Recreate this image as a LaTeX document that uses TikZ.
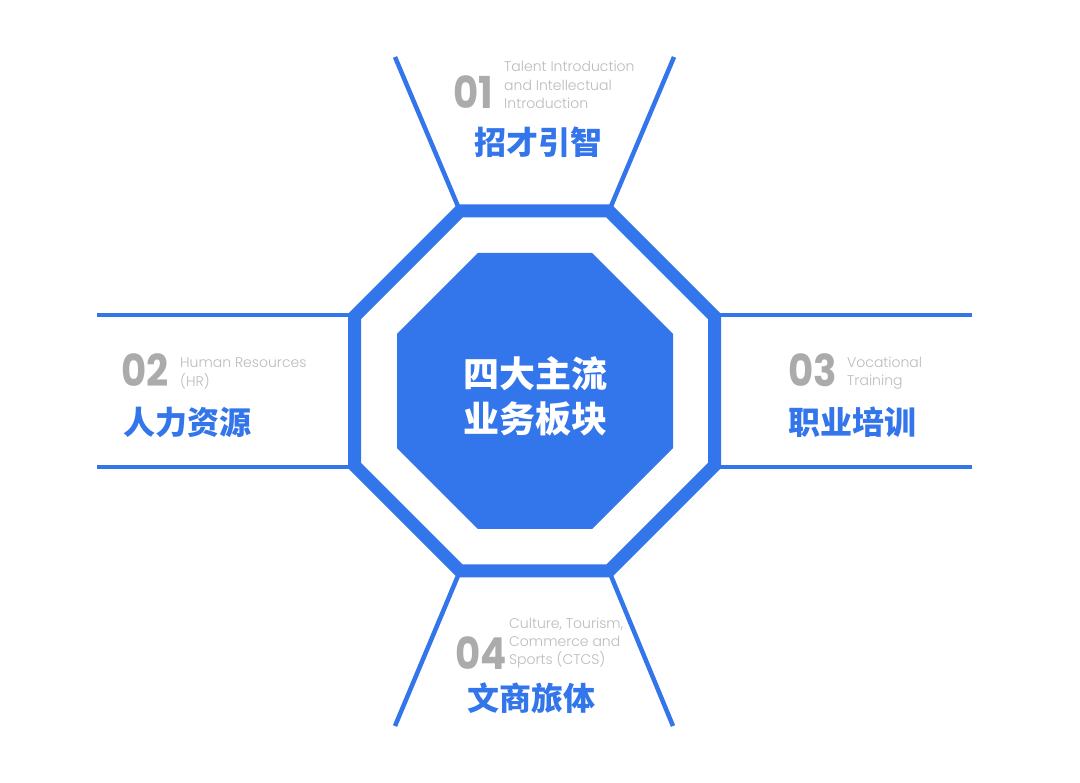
\documentclass[tikz,border=0pt]{standalone}
\usepackage{fontspec}
\setmainfont{Poppins}
\newfontfamily\cjk{Noto Sans CJK SC}
\newfontfamily\numfont[FakeStretch=0.88]{Poppins}
\newfontfamily\lightfont{Poppins Light}
\definecolor{mainblue}{HTML}{3375EA}
\definecolor{numgray}{HTML}{ABABAB}
\definecolor{engray}{HTML}{BBBBBB}
\newcommand{\englines}[1]{\begin{tabular}[t]{@{}l@{}}#1\end{tabular}}
\begin{document}
\begin{tikzpicture}[x=1pt,y=-1pt,
  ring/.style={draw=mainblue,line width=13pt,line join=miter},
  spoke/.style={draw=mainblue,line width=4.5pt},
  num/.style={anchor=base west,inner sep=0pt,text=numgray,font=\numfont\bfseries\fontsize{44}{44}\selectfont},
  eng/.style={anchor=base west,inner sep=0pt,text=engray,font=\lightfont\fontsize{14}{18.3}\selectfont},
  cn/.style={anchor=center,inner sep=0pt,text=mainblue,font=\cjk\bfseries\fontsize{32}{32}\selectfont},
  centre/.style={anchor=center,inner sep=0pt,text=white,font=\cjk\bfseries\fontsize{36}{36}\selectfont}]
\useasboundingbox[fill=white] (0,0) rectangle (1080,783);
% ring vertices
\coordinate (v1) at (460,211);
\coordinate (v2) at (609,211);
\coordinate (v3) at (714.5,316.5);
\coordinate (v4) at (714.5,465.5);
\coordinate (v5) at (609,571);
\coordinate (v6) at (460,571);
\coordinate (v7) at (354.5,465.5);
\coordinate (v8) at (354.5,316.5);
% spoke ends
\coordinate (t1) at (395,57);
\coordinate (t2) at (674,57);
\coordinate (l1) at (97,315);
\coordinate (l2) at (97,467);
\coordinate (r1) at (972,315);
\coordinate (r2) at (972,467);
\coordinate (b1) at (395,726);
\coordinate (b2) at (673,726);
\coordinate (v8b) at (354.5,315);
\coordinate (v7b) at (354.5,467);
\coordinate (v3b) at (714.5,315);
\coordinate (v4b) at (714.5,467);
% spokes
\draw[spoke] (v1) -- (t1);
\draw[spoke] (v2) -- (t2);
\draw[spoke] (v8b) -- (l1);
\draw[spoke] (v7b) -- (l2);
\draw[spoke] (v3b) -- (r1);
\draw[spoke] (v4b) -- (r2);
\draw[spoke] (v6) -- (b1);
\draw[spoke] (v5) -- (b2);
% ring
\draw[ring] (v1) -- (v2) -- (v3) -- (v4) -- (v5) -- (v6) -- (v7) -- (v8) -- cycle;
% inner octagon
\fill[mainblue] (477.8,253) -- (592.2,253) -- (673,333.8) -- (673,448.2) -- (592.2,529) -- (477.8,529) -- (397,448.2) -- (397,333.8) -- cycle;
\node[centre] (c1) at (535,373.5) {四大主流};
\node[centre] (c2) at (535,419) {业务板块};
% 01
\node[num] (n1) at (453,109) {01};
\node[eng] (e1) at (504,72) {\englines{Talent Introduction\\and Intellectual\\Introduction}};
\node[cn] (z1) at (538.5,142.5) {招才引智};
% 02
\node[num] (n2) at (121,387) {02};
\node[eng] (e2) at (180,367.5) {\englines{Human Resources\\(HR)}};
\node[cn] (z2) at (187,422) {人力资源};
% 03
\node[num] (n3) at (788,387) {03};
\node[eng] (e3) at (847,367.5) {\englines{Vocational\\Training}};
\node[cn] (z3) at (852.5,422) {职业培训};
% 04
\node[num] (n4) at (455,669) {04};
\node[eng] (e4) at (509,628) {\englines{Culture, Tourism,\\Commerce and\\Sports (CTCS)}};
\node[cn] (z4) at (531,698) {文商旅体};
\end{tikzpicture}
\end{document}
